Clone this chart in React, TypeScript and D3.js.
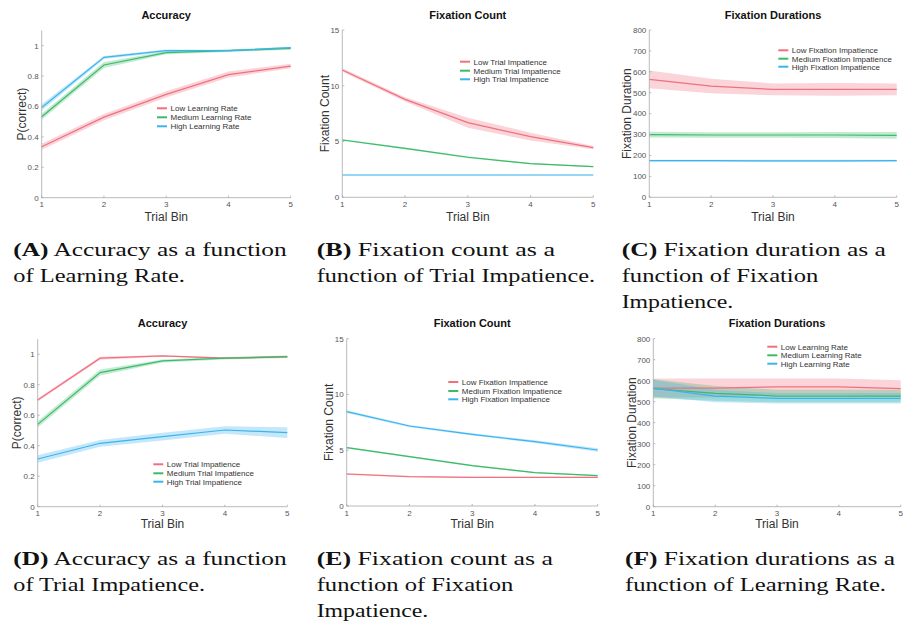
import React from "react";
import * as d3 from "d3";

const bins = [1, 2, 3, 4, 5];

// Panel A: Accuracy vs Learning Rate
const accLRLow = [0.335, 0.53, 0.68, 0.81, 0.866];
const accLRMed = [0.533, 0.873, 0.954, 0.967, 0.982];
const accLRHigh = [0.594, 0.923, 0.967, 0.967, 0.987];
const accLRLowErr = [0.02, 0.02, 0.02, 0.02, 0.015];
const accLRMedErr = [0.02, 0.02, 0.01, 0.008, 0.008];
const accLRHighErr = [0.02, 0.01, 0.008, 0.006, 0.006];

// Panel B: Fixation count vs Trial Impatience
const fcTILow = [11.41, 8.78, 6.69, 5.44, 4.45];
const fcTIMed = [5.14, 4.39, 3.59, 3.02, 2.75];
const fcTIHigh = [2.0, 2.0, 2.0, 2.0, 2.0];
const fcTILowErr = [0.15, 0.2, 0.45, 0.35, 0.15];
const fcTIMedErr = [0.08, 0.08, 0.08, 0.06, 0.06];
const fcTIHighErr = [0.03, 0.03, 0.03, 0.03, 0.03];

// Panel C: Fixation duration vs Fixation Impatience
const fdFILow = [564, 532, 516, 516, 516];
const fdFIMed = [300, 298, 298, 298, 296];
const fdFIHigh = [175, 175, 174, 174, 175];
const fdFILowErr = [42, 35, 28, 30, 28];
const fdFIMedErr = [14, 13, 13, 14, 16];
const fdFIHighErr = [5, 5, 5, 5, 5];

// Panel D: Accuracy vs Trial Impatience
const accTILow = [0.7, 0.974, 0.989, 0.974, 0.985];
const accTIMed = [0.54, 0.88, 0.956, 0.974, 0.983];
const accTIHigh = [0.313, 0.416, 0.46, 0.503, 0.486];
const accTILowErr = [0.01, 0.01, 0.005, 0.005, 0.005];
const accTIMedErr = [0.02, 0.02, 0.01, 0.008, 0.008];
const accTIHighErr = [0.025, 0.022, 0.025, 0.025, 0.035];

// Panel E: Fixation count vs Fixation Impatience
const fcFILow = [2.87, 2.63, 2.57, 2.57, 2.57];
const fcFIMed = [5.23, 4.42, 3.62, 2.99, 2.72];
const fcFIHigh = [8.46, 7.17, 6.42, 5.77, 5.02];
const fcFILowErr = [0.08, 0.06, 0.06, 0.06, 0.06];
const fcFIMedErr = [0.08, 0.08, 0.08, 0.06, 0.06];
const fcFIHighErr = [0.12, 0.1, 0.1, 0.12, 0.15];

// Panel F: Fixation durations vs Learning Rate
const fdLRLow = [565, 565, 571, 571, 562];
const fdLRMed = [562, 540, 527, 527, 527];
const fdLRHigh = [565, 527, 516, 516, 516];
const fdLRLowErr = [45, 45, 40, 40, 40];
const fdLRMedErr = [45, 35, 30, 30, 30];
const fdLRHighErr = [40, 30, 25, 25, 25];

const accTicks = [0, 0.2, 0.4, 0.6, 0.8, 1];
const countTicks = [0, 5, 10, 15];
const durTicks = [0, 100, 200, 300, 400, 500, 600, 700, 800];

const lrLabels = ["Low Learning Rate", "Medium Learning Rate", "High Learning Rate"];
const tiLabels = ["Low Trial Impatience", "Medium Trial Impatience", "High Trial Impatience"];
const fiLabels = ["Low Fixation Impatience", "Medium Fixation Impatience", "High Fixation Impatience"];

const COLORS = ["#f0707f", "#3cba6a", "#3bb4ee"];

type Series = { mean: number[]; err: number[] };
type Panel = {
  title: string;
  ylabel: string;
  x0: number; x1: number; yb: number; yt: number;
  ymax: number;
  yticks: number[];
  series: Series[];
  labels: string[];
  legX: number; legY: number[];
  ylabX: number;
  titleY: number;
  xlabY: number;
};

const panels: Panel[] = [
  {
    title: "Accuracy", ylabel: "P(correct)", x0: 41.7, x1: 290.7, yb: 197.7, yt: 30.5, ymax: 1.1,
    yticks: accTicks,
    series: [
      { mean: accLRLow, err: accLRLowErr },
      { mean: accLRMed, err: accLRMedErr },
      { mean: accLRHigh, err: accLRHighErr },
    ],
    labels: lrLabels, legX: 157, legY: [108.3, 117.3, 126.3], ylabX: 21.7, titleY: 19, xlabY: 221,
  },
  {
    title: "Fixation Count", ylabel: "Fixation Count", x0: 342.3, x1: 593.3, yb: 197.3, yt: 30, ymax: 15,
    yticks: countTicks,
    series: [
      { mean: fcTILow, err: fcTILowErr },
      { mean: fcTIMed, err: fcTIMedErr },
      { mean: fcTIHigh, err: fcTIHighErr },
    ],
    labels: tiLabels, legX: 460, legY: [61.7, 70.7, 79.3], ylabX: 325, titleY: 19, xlabY: 221,
  },
  {
    title: "Fixation Durations", ylabel: "Fixation Duration", x0: 649.3, x1: 896.7, yb: 197.3, yt: 30, ymax: 800,
    yticks: durTicks,
    series: [
      { mean: fdFILow, err: fdFILowErr },
      { mean: fdFIMed, err: fdFIMedErr },
      { mean: fdFIHigh, err: fdFIHighErr },
    ],
    labels: fiLabels, legX: 778.3, legY: [50.3, 58.7, 66.7], ylabX: 627.3, titleY: 19, xlabY: 221,
  },
  {
    title: "Accuracy", ylabel: "P(correct)", x0: 37.7, x1: 287.3, yb: 506.7, yt: 339, ymax: 1.1,
    yticks: accTicks,
    series: [
      { mean: accTILow, err: accTILowErr },
      { mean: accTIMed, err: accTIMedErr },
      { mean: accTIHigh, err: accTIHighErr },
    ],
    labels: tiLabels, legX: 153.3, legY: [464.3, 473.3, 481.7], ylabX: 16.7, titleY: 327.3, xlabY: 527.5,
  },
  {
    title: "Fixation Count", ylabel: "Fixation Count", x0: 346.7, x1: 597.7, yb: 506, yt: 338.7, ymax: 15,
    yticks: countTicks,
    series: [
      { mean: fcFILow, err: fcFILowErr },
      { mean: fcFIMed, err: fcFIMedErr },
      { mean: fcFIHigh, err: fcFIHighErr },
    ],
    labels: fiLabels, legX: 448.3, legY: [382, 391, 399.3], ylabX: 329.3, titleY: 326.7, xlabY: 527.5,
  },
  {
    title: "Fixation Durations", ylabel: "Fixation Duration", x0: 653.3, x1: 900.7, yb: 506.7, yt: 338.7, ymax: 800,
    yticks: durTicks,
    series: [
      { mean: fdLRLow, err: fdLRLowErr },
      { mean: fdLRMed, err: fdLRMedErr },
      { mean: fdLRHigh, err: fdLRHighErr },
    ],
    labels: lrLabels, legX: 767.3, legY: [346.7, 355.3, 363.7], ylabX: 631.7, titleY: 326.7, xlabY: 527.5,
  },
];

type Cap = { tag: string; lines: string[]; x: number; ends: number[]; y0: number };
const captions: Cap[] = [
  { tag: "(A)", lines: [" Accuracy as a function", "of Learning Rate."], x: 13.3, ends: [286.7, 185], y0: 256 },
  { tag: "(B)", lines: [" Fixation count as a", "function of Trial Impatience."], x: 316.7, ends: [555, 595], y0: 256 },
  { tag: "(C)", lines: [" Fixation duration as a", "function of Fixation", "Impatience."], x: 621.7, ends: [886, 818.3, 733.3], y0: 256 },
  { tag: "(D)", lines: [" Accuracy as a function", "of Trial Impatience."], x: 13.3, ends: [286.7, 205], y0: 565 },
  { tag: "(E)", lines: [" Fixation count as a", "function of Fixation", "Impatience."], x: 316.7, ends: [553, 513.3, 428.3], y0: 565 },
  { tag: "(F)", lines: [" Fixation durations as a", "function of Learning Rate."], x: 625, ends: [895, 886], y0: 565 },
];

const fmt = (v: number) => String(v);

function PanelView({ p }: { p: Panel }) {
  const x = d3.scaleLinear().domain([1, 5]).range([p.x0, p.x1]);
  const y = d3.scaleLinear().domain([0, p.ymax]).range([p.yb, p.yt]);
  const line = d3.line<number>().x((_, i) => x(bins[i])).y((d) => y(d));
  const area = (s: Series) =>
    d3
      .area<number>()
      .x((_, i) => x(bins[i]))
      .y0((_, i) => y(s.mean[i] - s.err[i]))
      .y1((_, i) => y(s.mean[i] + s.err[i]))(s.mean) || "";
  const axisColor = "#a8a8a8";
  const tickColor = "#555";
  const cx = (p.x0 + p.x1) / 2;
  const cy = (p.yb + p.yt) / 2;
  return (
    <g>
      {p.series.map((s, i) => (
        <path key={"a" + i} d={area(s)} fill={COLORS[i]} fillOpacity={0.3} stroke="none" />
      ))}
      {p.series.map((s, i) => (
        <path key={"l" + i} d={line(s.mean) || ""} fill="none" stroke={COLORS[i]} strokeWidth={1.2} />
      ))}
      <line x1={p.x0} x2={p.x1} y1={p.yb} y2={p.yb} stroke={axisColor} strokeWidth={0.8} />
      <line x1={p.x0} x2={p.x0} y1={p.yb} y2={p.yt} stroke={axisColor} strokeWidth={0.8} />
      {bins.map((b) => (
        <g key={"xt" + b}>
          <line x1={x(b)} x2={x(b)} y1={p.yb} y2={p.yb - 2} stroke={axisColor} strokeWidth={0.8} />
          <text x={x(b)} y={p.yb + 9.5} fontSize={8} fill={tickColor} textAnchor="middle" fontFamily="Liberation Sans, Arial, sans-serif">
            {b}
          </text>
        </g>
      ))}
      {p.yticks.map((t) => (
        <g key={"yt" + t}>
          <line x1={p.x0} x2={p.x0 + 2} y1={y(t)} y2={y(t)} stroke={axisColor} strokeWidth={0.8} />
          <text x={p.x0 - 3} y={y(t) + 2.8} fontSize={8} fill={tickColor} textAnchor="end" fontFamily="Liberation Sans, Arial, sans-serif">
            {fmt(t)}
          </text>
        </g>
      ))}
      <text x={cx} y={p.titleY} fontSize={11} fontWeight="bold" textAnchor="middle" fill="#111" fontFamily="Liberation Sans, Arial, sans-serif">
        {p.title}
      </text>
      <text x={cx} y={p.xlabY} fontSize={12} textAnchor="middle" fill="#333" fontFamily="Liberation Sans, Arial, sans-serif">
        Trial Bin
      </text>
      <text
        transform={`translate(${p.ylabX},${cy}) rotate(-90)`}
        fontSize={12}
        textAnchor="middle"
        dominantBaseline="central"
        fill="#333"
        fontFamily="Liberation Sans, Arial, sans-serif"
      >
        {p.ylabel}
      </text>
      {p.labels.map((lab, i) => (
        <g key={"lg" + i}>
          <line x1={p.legX} x2={p.legX + 10} y1={p.legY[i]} y2={p.legY[i]} stroke={COLORS[i]} strokeWidth={2} />
          <text x={p.legX + 13.5} y={p.legY[i] + 2.8} fontSize={8} fill="#333" fontFamily="Liberation Sans, Arial, sans-serif">
            {lab}
          </text>
        </g>
      ))}
    </g>
  );
}

export default function App() {
  return (
    <svg width={903} height={622} style={{ position: "absolute", left: 0, top: 0, background: "#fff" }}>
      <rect width={903} height={622} fill="#fff" />
      {panels.map((p, i) => (
        <PanelView key={i} p={p} />
      ))}
      {captions.map((c, ci) =>
        c.lines.map((ln, li) => (
          <text
            key={ci + "-" + li}
            x={c.x}
            y={c.y0 + li * 26}
            fontSize={19}
            fill="#111"
            fontFamily="Liberation Serif, Times New Roman, serif"
            textLength={c.ends[li] - c.x}
            lengthAdjust="spacingAndGlyphs"
            xmlSpace="preserve"
          >
            {li === 0 ? (
              <>
                <tspan fontWeight="bold">{c.tag}</tspan>
                <tspan>{ln}</tspan>
              </>
            ) : (
              ln
            )}
          </text>
        ))
      )}
    </svg>
  );
}
